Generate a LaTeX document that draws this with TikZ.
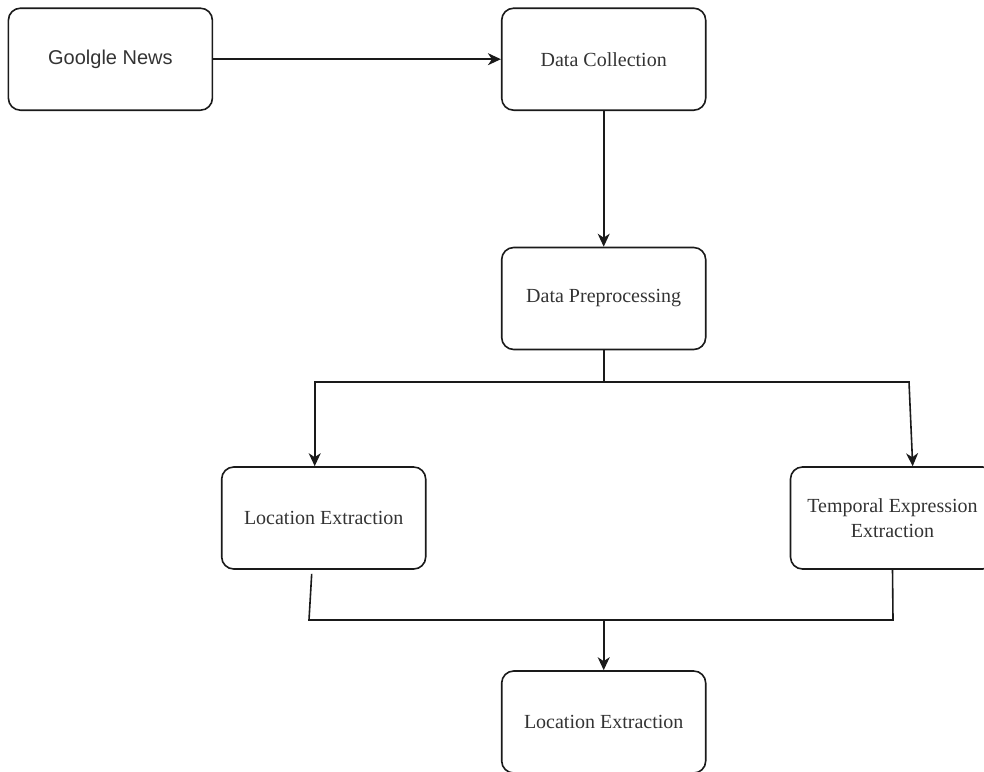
\documentclass[tikz,border=0pt]{standalone}
\usepackage{fontspec}
\setmainfont{Liberation Serif}
\newfontfamily\sansf{Liberation Sans}
\usetikzlibrary{arrows.meta,calc}
\definecolor{txt}{HTML}{333333}
\definecolor{ln}{HTML}{1A1A1A}
\begin{document}
\begin{tikzpicture}[x=1pt,y=-1pt,
  stepbox/.style={draw=ln, line width=1.6pt, rounded corners=12pt, minimum width=204pt, minimum height=102pt, inner sep=0pt, text=txt, align=center, font=\fontsize{20}{25}\selectfont},
  conn/.style={draw=ln, line width=1.6pt},
  arr/.style={conn, -{Stealth[length=13pt,width=12pt,inset=4pt]}}]
\useasboundingbox (0,0) rectangle (984,771);
\begin{scope}
\clip (0,0) rectangle (984,771);
\node[stepbox, font=\sansf\fontsize{20}{25}\selectfont] (gn) at (110.4,59.2) {Goolgle News};
\node[stepbox] (dc) at (603.7,59.2) {Data Collection};
\node[stepbox] (dp) at (603.7,298.5) {Data Preprocessing};
\node[stepbox] (le) at (323.7,518) {Location Extraction};
\node[stepbox] (te) at (892.5,518) {Temporal Expression\\Extraction};
\node[stepbox] (fe) at (603.7,722) {Location Extraction};
\coordinate (split) at (603.7,382);
\coordinate (merge) at (603.7,620);
\draw[arr] (gn.east) -- (dc.west);
\draw[arr] (dc.south) -- (dp.north);
\draw[conn] (dp.south) -- (split);
\draw[arr] (split) -- (314.7,382) -- ($(le.north)+(-9,0)$);
\draw[arr] (split) -- (909,382) -- ($(te.north)+(20.2,0)$);
\draw[conn] ($(le.south)+(-12,4)$) -- (309,620) -- (893,620) -- (te.south);
\draw[arr] (merge) -- (fe.north);
\end{scope}
\end{tikzpicture}
\end{document}
